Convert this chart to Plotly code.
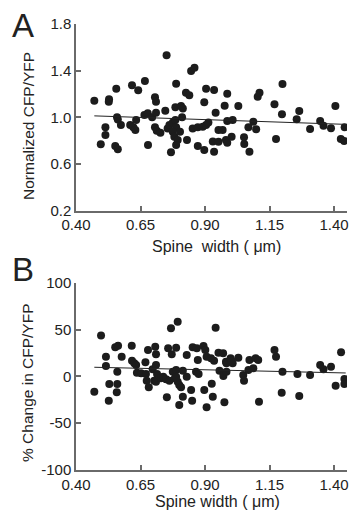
import plotly.graph_objects as go

# ---------------- data ----------------
width_a = [0.471, 0.528, 0.527, 0.556, 0.617, 0.641, 0.667, 0.751, 0.788, 0.846,
           0.859, 0.706, 0.710, 0.746, 0.785, 0.807, 0.814, 0.826, 0.839, 0.897,
           0.904, 0.559, 0.562, 0.574, 0.514, 0.514, 0.496, 0.552, 0.562, 0.610,
           0.622, 0.630, 0.633, 0.665, 0.678, 0.695, 0.710, 0.706, 0.713, 0.727,
           0.679, 0.755, 0.762, 0.775, 0.785, 0.788, 0.775, 0.781, 0.794, 0.803,
           0.811, 0.768, 0.788, 0.830, 0.852, 0.872, 0.891, 0.904, 0.913, 0.872,
           0.897, 0.930, 0.935, 0.935, 0.986, 0.941, 0.976, 1.029, 0.986, 1.007,
           0.952, 0.968, 0.952, 0.981, 0.986, 1.003, 1.051, 1.052, 1.072, 1.068,
           1.087, 1.098, 1.104, 1.111, 1.200, 1.169, 1.198, 1.265, 1.255, 1.175,
           1.307, 1.346, 1.359, 1.388, 1.405, 1.441, 1.426, 1.439]
ratio_a = [1.142, 1.154, 1.134, 1.245, 1.274, 1.231, 1.311, 1.532, 1.288, 1.397,
           1.425, 1.171, 1.134, 1.056, 1.085, 1.096, 1.076, 1.211, 1.189, 1.128,
           1.245, 1.001, 0.981, 0.934, 0.914, 0.848, 0.768, 0.754, 0.725, 0.934,
           0.914, 0.891, 0.977, 1.020, 1.034, 1.000, 1.039, 0.914, 0.885, 0.868,
           0.762, 0.903, 0.934, 0.954, 0.977, 0.914, 0.876, 0.833, 0.805, 0.876,
           1.000, 0.700, 0.762, 0.805, 0.903, 0.914, 0.919, 0.934, 0.954, 0.754,
           0.719, 0.791, 0.705, 1.234, 1.202, 1.039, 1.099, 1.097, 0.968, 0.977,
           0.891, 0.891, 0.790, 0.805, 0.782, 0.833, 0.828, 0.771, 0.705, 0.914,
           0.962, 0.897, 1.177, 1.211, 1.285, 1.111, 1.026, 1.054, 0.983, 0.814,
           0.899, 0.968, 0.928, 0.905, 1.097, 0.914, 0.814, 0.797]

width_b = [0.471, 0.497, 0.516, 0.516, 0.527, 0.529, 0.560, 0.558, 0.552, 0.563,
           0.560, 0.577, 0.616, 0.617, 0.626, 0.633, 0.636, 0.652, 0.669, 0.671,
           0.674, 0.682, 0.679, 0.707, 0.710, 0.697, 0.710, 0.714, 0.703, 0.710,
           0.729, 0.738, 0.749, 0.762, 0.757, 0.788, 0.771, 0.768, 0.794, 0.775,
           0.788, 0.783, 0.794, 0.788, 0.800, 0.807, 0.814, 0.752, 0.800, 0.814,
           0.829, 0.846, 0.850, 0.829, 0.852, 0.868, 0.894, 0.901, 0.872, 0.865,
           0.875, 0.906, 0.923, 0.897, 0.926, 0.906, 0.930, 0.941, 0.935, 0.952,
           0.970, 0.981, 0.983, 0.999, 1.007, 1.003, 1.029, 0.956, 0.971, 0.983,
           0.975, 1.048, 1.051, 1.072, 1.096, 1.106, 1.068, 1.087, 1.109, 1.169,
           1.175, 1.200, 1.197, 1.258, 1.265, 1.307, 1.346, 1.359, 1.388, 1.427,
           1.406, 1.440, 1.440]
change_b = [-16.4, 43.5, 21.0, 11.1, -26.0, -8.2, -8.2, -17.0, 31.0, 32.7,
            5.0, 21.0, 32.7, 16.7, 13.9, 12.1, 3.9, 3.3, 15.0, 2.5,
            -4.6, -11.7, 28.1, 31.7, 23.5, 7.5, 12.1, 2.5, -4.6, -5.7,
            -2.1, -0.4, -3.2, -4.6, 30.0, 30.6, 23.5, 51.3, 58.4, 5.0,
            6.8, -2.1, -5.7, -0.4, -9.2, -11.7, 6.0, -22.4, -30.6, -21.7,
            22.8, -14.6, -26.0, -0.4, 31.0, 30.0, 32.4, 28.1, 17.5, 5.0,
            2.5, 21.0, 19.3, -14.6, -8.0, -33.1, -21.7, 52.0, 16.7, 25.3,
            24.6, 15.6, 13.9, 19.3, 13.9, 16.7, 19.9, 6.0, 0.4, 5.0,
            -27.7, 1.4, -4.6, 17.5, 19.3, 17.5, 6.8, 8.6, -27.1, 28.1,
            21.0, 5.0, -17.5, 2.5, -21.0, 1.4, 12.1, 7.5, 10.3, 25.7,
            -10.0, -2.8, -8.2]

fit_a_x = [0.471, 1.445]
fit_a_y = [1.012, 0.939]
fit_b_x = [0.471, 1.445]
fit_b_y = [9.7, 3.6]

x_ticks = [0.40, 0.65, 0.90, 1.15, 1.40]
x_ticktext = ["0.40", "0.65", "0.90", "1.15", "1.40"]
ya_ticks = [0.2, 0.6, 1.0, 1.4, 1.8]
ya_ticktext = ["0.2", "0.6", "1.0", "1.4", "1.8"]
yb_ticks = [-100, -50, 0, 50, 100]
yb_ticktext = ["-100", "-50", "0", "50", "100"]

# ---------------- figure ----------------
FONT = "Liberation Sans, Arial, sans-serif"
AX = "#6a6a6a"
DOT = "#1c1c1c"

fig = go.Figure()
fig.add_trace(go.Scatter(x=width_a, y=ratio_a, mode="markers",
                         marker=dict(color=DOT, size=8, line=dict(width=0)),
                         xaxis="x", yaxis="y", showlegend=False))
fig.add_trace(go.Scatter(x=fit_a_x, y=fit_a_y, mode="lines",
                         line=dict(color="#222222", width=1),
                         xaxis="x", yaxis="y", showlegend=False))
fig.add_trace(go.Scatter(x=width_b, y=change_b, mode="markers",
                         marker=dict(color=DOT, size=8, line=dict(width=0)),
                         xaxis="x2", yaxis="y2", showlegend=False))
fig.add_trace(go.Scatter(x=fit_b_x, y=fit_b_y, mode="lines",
                         line=dict(color="#222222", width=1),
                         xaxis="x2", yaxis="y2", showlegend=False))

axis_common = dict(showline=True, linecolor=AX, linewidth=1.5, showgrid=False,
                   zeroline=False, ticks="inside", ticklen=5, tickwidth=1.5,
                   tickcolor=AX, tickfont=dict(family=FONT, size=15, color="#222"),
                   mirror=False, automargin=False)

fig.update_layout(
    width=355, height=511,
    margin=dict(l=76, r=8, t=24, b=41, pad=0),
    paper_bgcolor="white", plot_bgcolor="white",
    xaxis=dict(domain=[0, 1], range=[0.40, 1.45], anchor="y",
               tickvals=x_ticks, ticktext=x_ticktext, **axis_common),
    yaxis=dict(domain=[0.5818, 1.0], range=[0.2, 1.8], anchor="x",
               tickvals=ya_ticks, ticktext=ya_ticktext, **axis_common),
    xaxis2=dict(domain=[0, 1], range=[0.40, 1.45], anchor="y2",
                tickvals=x_ticks, ticktext=x_ticktext, **axis_common),
    yaxis2=dict(domain=[0.0, 0.42], range=[-100, 100], anchor="x2",
                tickvals=yb_ticks, ticktext=yb_ticktext, **axis_common),
)

W = 271.0
H = 446.0
def px(xp):
    return (xp - 76) / W
def py(yp):
    return (470 - yp) / H

ann = [
    dict(text="A", x=px(23), y=py(25), size=33, angle=0, ya="middle"),
    dict(text="B", x=px(23), y=py(269), size=33, angle=0, ya="middle"),
    dict(text="Normalized CFP/YFP", x=px(28), y=py(126), size=15.5, angle=-90, ya="middle"),
    dict(text="% Change in CFP/YFP", x=px(27), y=py(383), size=15.5, angle=-90, ya="middle"),
    dict(text="Spine  width ( \u03bcm)", x=px(217), y=py(246), size=16, angle=0, ya="middle"),
    dict(text="Spine width ( \u03bcm)", x=px(217.5), y=py(511), size=16, angle=0, ya="bottom"),
]
for a in ann:
    fig.add_annotation(text=a["text"], x=a["x"], y=a["y"], xref="paper", yref="paper",
                       xanchor="center", yanchor=a["ya"], showarrow=False,
                       textangle=a["angle"], borderpad=0,
                       font=dict(family=FONT, size=a["size"], color="#222"))

fig.write_html("out.html", config={"displayModeBar": False},
               post_script="document.body.style.margin='0';document.body.style.overflow='hidden';")
